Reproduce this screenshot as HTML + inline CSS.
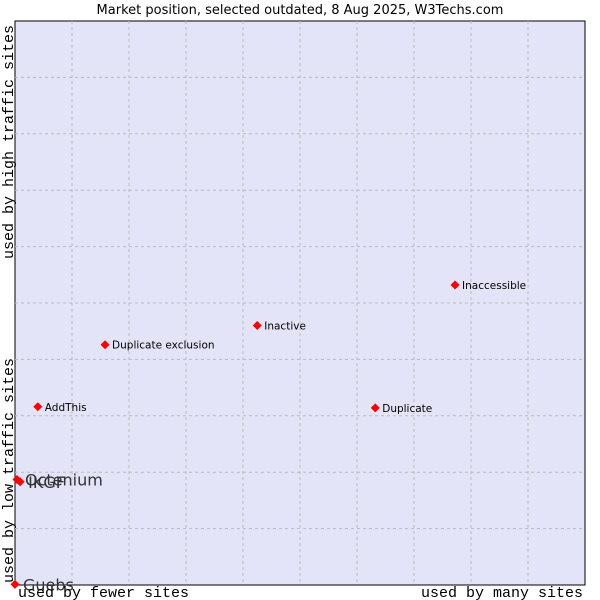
<!DOCTYPE html>
<html><head><meta charset="utf-8"><style>
body{margin:0;background:#fff;width:600px;height:600px;overflow:hidden}
svg{display:block}
</style></head><body>
<svg id="chart" width="600" height="600" xmlns="http://www.w3.org/2000/svg">
<text x="300" y="14" text-anchor="middle" font-family="DejaVu Sans, sans-serif" font-size="13" fill="#000">Market position, selected outdated, 8 Aug 2025, W3Techs.com</text>
<rect x="15" y="21" width="570" height="564" fill="#e4e4f8" stroke="#000" stroke-width="1"/>
<g id="grid"></g>
<g id="points"></g>
<text x="18" y="597" font-family="Liberation Mono, monospace" font-size="15" fill="#000">used by fewer sites</text>
<text x="583" y="597" text-anchor="end" font-family="Liberation Mono, monospace" font-size="15" fill="#000">used by many sites</text>
<text transform="translate(13,583) rotate(-90)" font-family="Liberation Mono, monospace" font-size="15" fill="#000">used by low traffic sites</text>
<text transform="translate(13,259) rotate(-90)" font-family="Liberation Mono, monospace" font-size="15" fill="#000">used by high traffic sites</text>
</svg>
<script>
const names = ["Octenium","IKGF","Guebs","AddThis","Duplicate exclusion","Inactive","Inaccessible","Duplicate"];
const xValues = [0.35,0.9,0,4.0,15.8,42.5,77.2,63.2];
const yValues = [18.7,18.3,0.1,31.6,42.6,46.0,53.2,31.4];
const bigLabel = [true,true,true,false,false,false,false,false];
const L=15,T=21,W=570,H=564;
const sx=v=>L+v/100*W, sy=v=>T+H-v/100*H;
const NS="http://www.w3.org/2000/svg";
const grid=document.getElementById('grid');
for(let i=1;i<10;i++){
  const v=document.createElementNS(NS,'line');
  
  
  v.setAttribute('x1',sx(i*10));v.setAttribute('x2',sx(i*10));v.setAttribute('y1',T);v.setAttribute('y2',T+H);
  v.setAttribute('stroke','#bbb');v.setAttribute('stroke-dasharray','3,3');grid.appendChild(v);
  const h=document.createElementNS(NS,'line');
  
  
  h.setAttribute('y1',sy(i*10));h.setAttribute('y2',sy(i*10));h.setAttribute('x1',L);h.setAttribute('x2',L+W);
  h.setAttribute('stroke','#bbb');h.setAttribute('stroke-dasharray','3,3');grid.appendChild(h);
}
const pg=document.getElementById('points');
names.forEach((n,i)=>{
  const x=sx(xValues[i]),y=sy(yValues[i]);
  const d=document.createElementNS(NS,'polygon');
  
  
  d.setAttribute('points',`${x},${y-4.5} ${x+4.5},${y} ${x},${y+4.5} ${x-4.5},${y}`);
  d.setAttribute('fill','#f00');pg.appendChild(d);
  const t=document.createElementNS(NS,'text');
  
  
  t.setAttribute('x',x+(bigLabel[i]?8:7));t.setAttribute('y',y+(bigLabel[i]?6:4));
  t.setAttribute('font-family','DejaVu Sans, sans-serif');
  t.setAttribute('font-size',bigLabel[i]?'16':'10.5');
  t.setAttribute('fill',bigLabel[i]?'#333':'#000');
  t.textContent=n;pg.appendChild(t);
});
</script>
</body></html>
